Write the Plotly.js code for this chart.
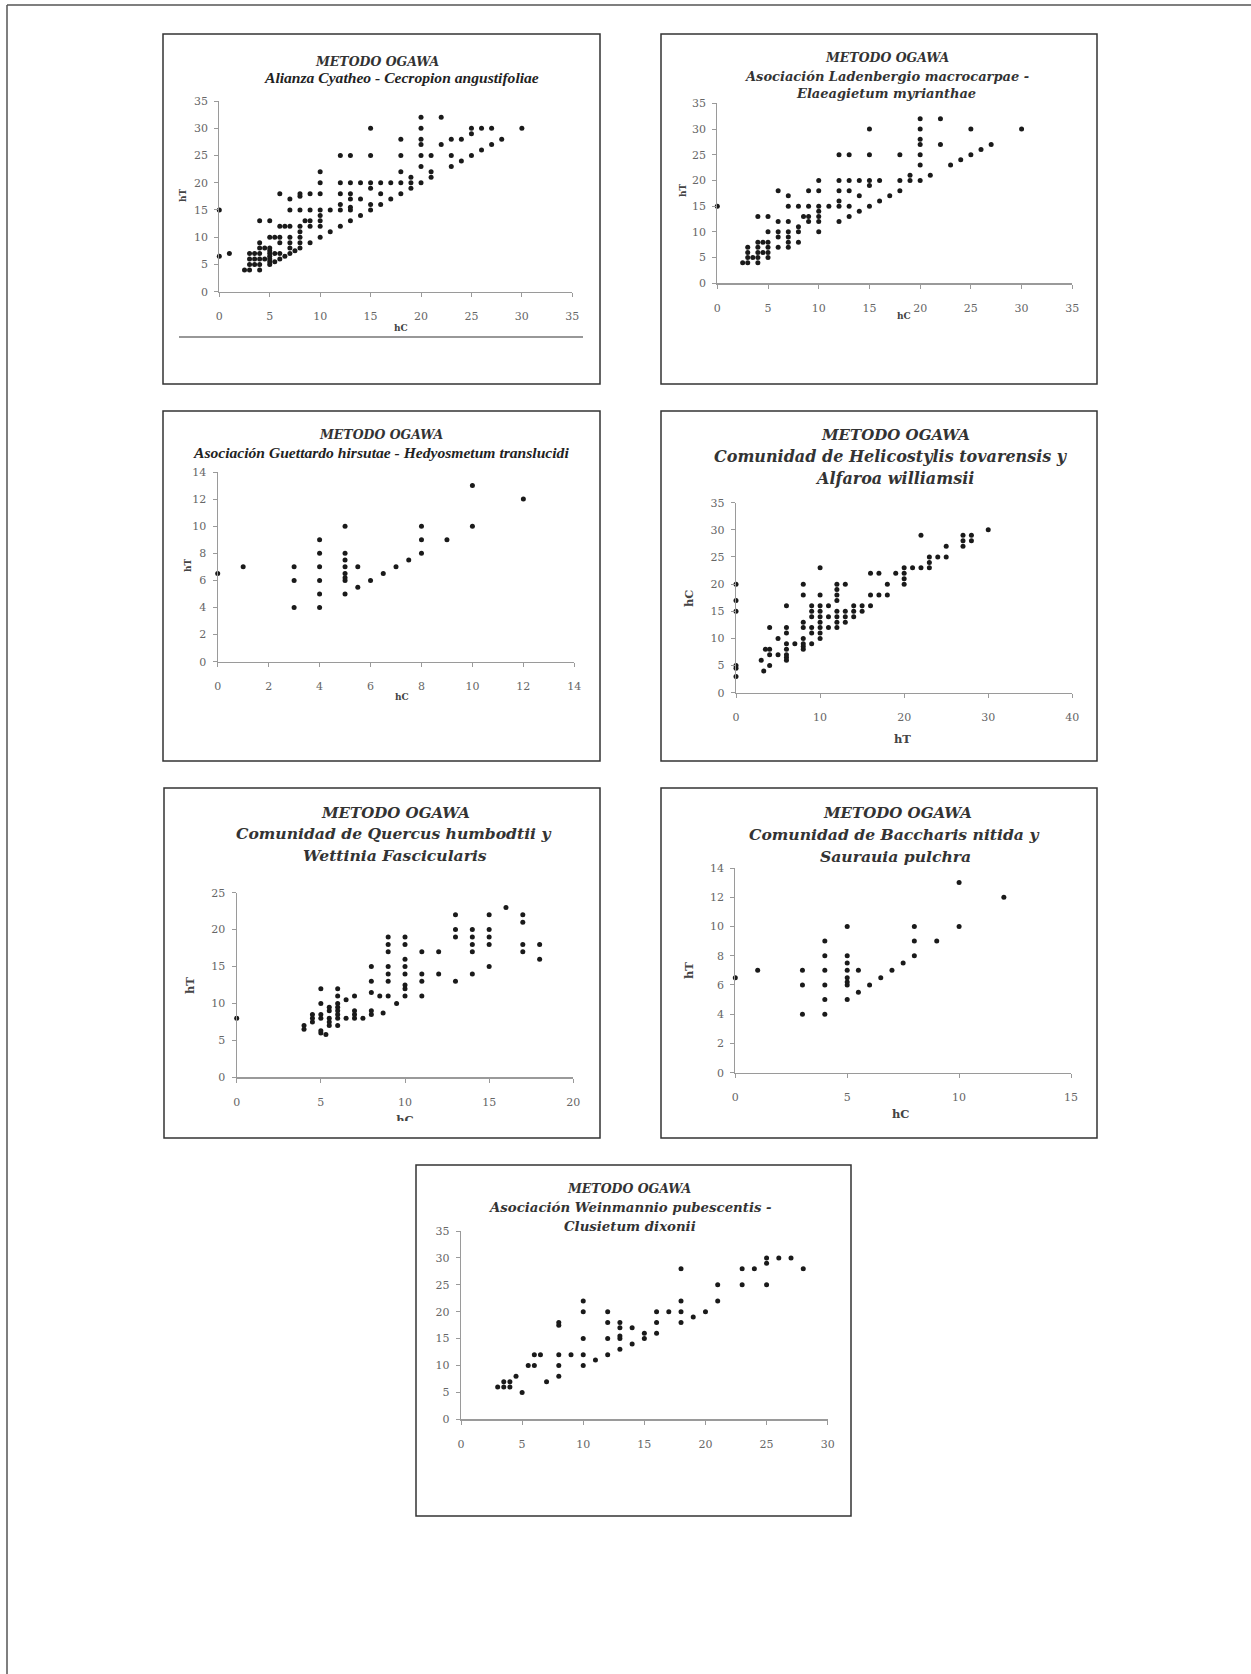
<!DOCTYPE html>
<html>
<head>
<meta charset="utf-8">
<script src="https://cdn.plot.ly/plotly-3.0.1.min.js"></script>
<style>html,body{margin:0;padding:0;background:#fff;} #chart{width:1251px;height:1674px;}</style>
</head>
<body>
<div id="chart"></div>
<script>
// ---------- DATA (hC, hT) ----------
const p1Title = "Alianza Cyatheo - Cecropion angustifoliae";
const p1Pairs = [[0,15],[0,6.5],[1,7],[2.5,4],[3,4],[3,5],[3,6],[3,7],[3.5,5],[3.5,6],[3.5,7],[4,4],[4,5],[4,6],[4,7],[4,8],[4,9],[4,13],[4.5,6],[4.5,8],[5,5],[5,5.5],[5,6],[5,6.5],[5,7],[5,7.5],[5,8],[5,10],[5,13],[5.5,5.5],[5.5,7],[5.5,10],[6,6],[6,7],[6,9],[6,10],[6,12],[6,18],[6.5,6.5],[6.5,12],[7,7],[7,8],[7,9],[7,10],[7,12],[7,15],[7,17],[7.5,7.5],[8,8],[8,9],[8,10],[8,11],[8,12],[8,15],[8,17.5],[8,18],[8.5,13],[9,9],[9,12],[9,13],[9,15],[9,18],[10,10],[10,12],[10,13],[10,14],[10,15],[10,18],[10,20],[10,22],[11,11],[11,15],[12,12],[12,15],[12,16],[12,18],[12,20],[12,25],[13,13],[13,15],[13,15.5],[13,17],[13,18],[13,20],[13,25],[14,14],[14,17],[14,20],[15,15],[15,16],[15,19],[15,20],[15,25],[15,30],[16,16],[16,18],[16,20],[17,17],[17,20],[18,18],[18,20],[18,22],[18,25],[18,28],[19,19],[19,20],[19,21],[20,20],[20,23],[20,25],[20,27],[20,28],[20,30],[20,32],[21,21],[21,22],[21,25],[22,27],[22,32],[23,23],[23,25],[23,28],[24,24],[24,28],[25,25],[25,29],[25,30],[26,26],[26,30],[27,27],[27,30],[28,28],[30,30]];

const p2Title = ["Asociación Ladenbergio macrocarpae -", "Elaeagietum myrianthae"];
const p2Pairs = [[0,15],[2.5,4],[3,4],[3,5],[3,6],[3,7],[3.5,5],[4,4],[4,5],[4,6],[4,7],[4,8],[4,13],[4.5,6],[4.5,8],[5,5],[5,6],[5,7],[5,8],[5,10],[5,13],[6,7],[6,9],[6,10],[6,12],[6,18],[7,7],[7,8],[7,9],[7,10],[7,12],[7,15],[7,17],[8,8],[8,10],[8,11],[8,15],[8.5,13],[9,12],[9,13],[9,15],[9,18],[10,10],[10,12],[10,13],[10,14],[10,15],[10,18],[10,20],[11,15],[12,12],[12,15],[12,16],[12,18],[12,20],[12,25],[13,13],[13,15],[13,18],[13,20],[13,25],[14,14],[14,17],[14,20],[15,15],[15,19],[15,20],[15,25],[15,30],[16,16],[16,20],[17,17],[18,18],[18,20],[18,25],[19,20],[19,21],[20,20],[20,23],[20,25],[20,27],[20,28],[20,30],[20,32],[21,21],[22,27],[22,32],[23,23],[24,24],[25,25],[25,30],[26,26],[27,27],[30,30]];

const p3Title = "Asociación Guettardo hirsutae - Hedyosmetum translucidi";
const p3Pairs = [[0,6.5],[1,7],[3,4],[3,6],[3,7],[4,4],[4,5],[4,6],[4,7],[4,8],[4,9],[5,5],[5,6],[5,6.2],[5,6.5],[5,7],[5,7.5],[5,8],[5,10],[5.5,5.5],[5.5,7],[6,6],[6.5,6.5],[7,7],[7.5,7.5],[8,8],[8,9],[8,10],[9,9],[10,10],[10,13],[12,12]];

const p4Title = ["Comunidad de Helicostylis tovarensis y", "Alfaroa williamsii"];
// here x = hT, y = hC
const p4Pairs = [[0,3],[0,4.5],[0,5],[0,15],[0,17],[0,20],[3,6],[3.3,4],[3.5,8],[4,5],[4,7],[4,8],[4,12],[5,7],[5,10],[6,6],[6,6.5],[6,7],[6,8],[6,9],[6,11],[6,12],[6,16],[7,9],[8,8],[8,8.5],[8,9],[8,10],[8,12],[8,13],[8,18],[8,20],[9,9],[9,11],[9,12],[9,14],[9,15],[9,16],[10,10],[10,11],[10,12],[10,13],[10,14],[10,15],[10,16],[10,18],[10,23],[11,12],[11,14],[11,16],[12,12],[12,13],[12,14],[12,15],[12,17],[12,18],[12,19],[12,20],[13,13],[13,14],[13,15],[13,20],[14,14],[14,15],[14,16],[15,15],[15,16],[16,16],[16,18],[16,22],[17,18],[17,22],[18,18],[18,20],[19,22],[20,20],[20,21],[20,22],[20,23],[21,23],[22,23],[22,29],[23,23],[23,24],[23,25],[24,25],[25,25],[25,27],[27,27],[27,28],[27,29],[28,28],[28,29],[30,30]];

const p5Title = ["Comunidad de Quercus humbodtii y", "Wettinia Fascicularis"];
const p5Pairs = [[0,8],[4,6.5],[4,7],[4.5,7.5],[4.5,8],[4.5,8.5],[5,6],[5,6.3],[5,8],[5,8.5],[5,10],[5,12],[5.3,5.8],[5.5,7],[5.5,7.5],[5.5,8],[5.5,9],[5.5,9.5],[6,7],[6,8],[6,8.5],[6,9],[6,9.5],[6,10],[6,11],[6,12],[6.5,8],[6.5,10.5],[7,8],[7,8.5],[7,9],[7,11],[7.5,8],[8,8.5],[8,9],[8,11.5],[8,13],[8,15],[8.5,11],[8.7,8.7],[9,11],[9,13],[9,14],[9,15],[9,17],[9,18],[9,19],[9.5,10],[10,11],[10,12],[10,12.5],[10,14],[10,15],[10,16],[10,18],[10,19],[11,11],[11,13],[11,14],[11,17],[12,14],[12,17],[13,13],[13,19],[13,20],[13,22],[14,14],[14,17],[14,18],[14,19],[14,20],[15,15],[15,18],[15,19],[15,20],[15,22],[16,23],[17,17],[17,18],[17,21],[17,22],[18,16],[18,18]];

const p6Title = ["Comunidad de Baccharis nitida y", "Saurauia pulchra"];
const p6Pairs = [[0,6.5],[1,7],[3,4],[3,6],[3,7],[4,4],[4,5],[4,6],[4,7],[4,8],[4,9],[5,5],[5,6],[5,6.2],[5,6.5],[5,7],[5,7.5],[5,8],[5,10],[5.5,5.5],[5.5,7],[6,6],[6.5,6.5],[7,7],[7.5,7.5],[8,8],[8,9],[8,10],[9,9],[10,10],[10,13],[12,12]];

const p7Title = ["Asociación Weinmannio pubescentis -", "Clusietum dixonii"];
const p7Pairs = [[3,6],[3.5,6],[3.5,7],[4,6],[4,7],[4.5,8],[5,5],[5.5,10],[6,10],[6,12],[6.5,12],[7,7],[8,8],[8,10],[8,12],[8,17.5],[8,18],[9,12],[10,10],[10,12],[10,15],[10,20],[10,22],[11,11],[12,12],[12,15],[12,18],[12,20],[13,13],[13,15],[13,15.5],[13,17],[13,18],[14,14],[14,17],[15,15],[15,16],[16,16],[16,18],[16,20],[17,20],[18,18],[18,20],[18,22],[18,28],[19,19],[20,20],[21,22],[21,25],[23,25],[23,28],[24,28],[25,25],[25,29],[25,30],[26,30],[27,30],[28,28]];

const mainTitle = "METODO OGAWA";

// ---------- LAYOUT ----------
const W = 1251, H = 1674;
const PX = x => x / W;
const PY = y => 1 - y / H;

const panels = [
  {pairs:p1Pairs, box:[163,34,600,384], plot:[219.3,101,572.3,291.7], xr:[0,35], yr:[0,35], dx:5, dy:5},
  {pairs:p2Pairs, box:[661,34,1097,384], plot:[717.3,103.3,1072.3,283.3], xr:[0,35], yr:[0,35], dx:5, dy:5},
  {pairs:p3Pairs, box:[163,411,600,761], plot:[217.7,472,574.3,661.7], xr:[0,14], yr:[0,14], dx:2, dy:2},
  {pairs:p4Pairs, box:[661,411,1097,761], plot:[736,502.7,1072.3,692.7], xr:[0,40], yr:[0,35], dx:10, dy:5},
  {pairs:p5Pairs, box:[164,788,600,1138], plot:[236.7,892.7,573.3,1077.3], xr:[0,20], yr:[0,25], dx:5, dy:5},
  {pairs:p6Pairs, box:[661,788,1097,1138], plot:[735.3,868,1071,1072.7], xr:[0,15], yr:[0,14], dx:5, dy:2},
  {pairs:p7Pairs, box:[416,1165,851,1516], plot:[461,1231,827.7,1419.3], xr:[0,30], yr:[0,35], dx:5, dy:5}
];

const tickFont = {family:"DejaVu Serif", size:11, color:"#666"};
const traces = [];
const layout = {
  width:W, height:H, margin:{l:0,r:0,t:0,b:0},
  paper_bgcolor:"#fff", plot_bgcolor:"rgba(0,0,0,0)",
  showlegend:false, shapes:[], annotations:[]
};

panels.forEach((p,i) => {
  const n = i + 1;
  const xa = n === 1 ? "xaxis" : "xaxis" + n;
  const ya = n === 1 ? "yaxis" : "yaxis" + n;
  const xs = n === 1 ? "x" : "x" + n;
  const ys = n === 1 ? "y" : "y" + n;
  traces.push({
    type:"scatter", mode:"markers",
    x:p.pairs.map(d => d[0]), y:p.pairs.map(d => d[1]),
    xaxis:xs, yaxis:ys, cliponaxis:false,
    marker:{size:5, color:"#1a1a1a"}, hoverinfo:"skip"
  });
  const common = {showgrid:false, zeroline:false, showline:true, linecolor:"#9a9a9a", linewidth:1.2,
    ticks:"outside", ticklen:4, tickcolor:"#9a9a9a", tickfont:tickFont, tick0:0, fixedrange:true};
  layout[xa] = Object.assign({}, common, {domain:[PX(p.plot[0]), PX(p.plot[2])], range:p.xr, dtick:p.dx, anchor:ys, ticklabelstandoff:10});
  layout[ya] = Object.assign({}, common, {domain:[PY(p.plot[3]), PY(p.plot[1])], range:p.yr, dtick:p.dy, anchor:xs, ticklabelstandoff:4});
  layout.shapes.push({type:"rect", xref:"paper", yref:"paper",
    x0:PX(p.box[0]), x1:PX(p.box[2]), y0:PY(p.box[3]), y1:PY(p.box[1]),
    line:{color:"#333", width:1.5}, fillcolor:"rgba(0,0,0,0)"});
});

// outer page frame (left and top edges)
layout.shapes.push({type:"line", xref:"paper", yref:"paper", x0:PX(7), x1:PX(7), y0:0, y1:PY(5), line:{color:"#555", width:1.5}});
layout.shapes.push({type:"line", xref:"paper", yref:"paper", x0:PX(7), x1:1, y0:PY(5), y1:PY(5), line:{color:"#555", width:1.5}});
// rule under panel 1
layout.shapes.push({type:"line", xref:"paper", yref:"paper", x0:PX(179), x1:PX(583), y0:PY(337), y1:PY(337), line:{color:"#333", width:1.2}});

function ann(text, x, y, font, angle) {
  layout.annotations.push({text:text, xref:"paper", yref:"paper", x:PX(x), y:PY(y),
    xanchor:"center", yanchor:"middle", showarrow:false, font:font, textangle:angle || 0});
}
const bookS = {family:"DejaVu Serif", size:12.5, color:"#333"};
const bookS2 = {family:"DejaVu Serif", size:13, color:"#333"};
const bookL = {family:"DejaVu Serif", size:15, color:"#333"};
const bookL2 = {family:"DejaVu Serif", size:15.6, color:"#333"};
const times = {family:"Liberation Serif", size:15.6, color:"#222"};
const lab = s => ({family:"DejaVu Serif", size:s, color:"#444"});
const bi = t => "<b><i>" + t + "</i></b>";

// panel 1
ann(bi(mainTitle), 377, 61, bookS);
ann(bi(p1Title), 401, 78, times);
ann("<b>hC</b>", 401, 328, lab(9));
ann("<b>hT</b>", 183, 195, lab(9), -90);
// panel 2
ann(bi(mainTitle), 887, 57, bookS);
ann(bi(p2Title[0]), 886, 76, bookS2);
ann(bi(p2Title[1]), 886, 93, bookS2);
ann("<b>hC</b>", 904, 316, lab(9));
ann("<b>hT</b>", 683, 190, lab(9), -90);
// panel 3
ann(bi(mainTitle), 381, 434, bookS);
ann(bi(p3Title), 381, 452, times);
ann("<b>hC</b>", 402, 697, lab(9));
ann("<b>hT</b>", 188, 565, lab(9), -90);
// panel 4
ann(bi(mainTitle), 895, 435, bookL);
ann(bi(p4Title[0]), 891, 457, {family:"DejaVu Serif", size:16, color:"#333"});
ann(bi(p4Title[1]), 894, 478, {family:"DejaVu Serif", size:16, color:"#333"});
ann("<b>hT</b>", 903, 739, lab(11.5));
ann("<b>hC</b>", 689, 598, lab(11.5), -90);
// panel 5
ann(bi(mainTitle), 396, 813, bookL);
ann(bi(p5Title[0]), 393, 834, bookL2);
ann(bi(p5Title[1]), 395, 855, bookL2);
ann("<b>hT</b>", 190, 986, lab(11.5), -90);
// panel 6
ann(bi(mainTitle), 897, 813, bookL);
ann(bi(p6Title[0]), 894, 835, bookL2);
ann(bi(p6Title[1]), 895, 856, bookL2);
ann("<b>hC</b>", 901, 1114, lab(11.5));
ann("<b>hT</b>", 689, 971, lab(11.5), -90);
// panel 7
ann(bi(mainTitle), 629, 1188, bookS);
ann(bi(p7Title[0]), 630, 1207, {family:"DejaVu Serif", size:13.3, color:"#333"});
ann(bi(p7Title[1]), 630, 1226, {family:"DejaVu Serif", size:13.3, color:"#333"});

// panel 5 x-axis label, cut off by the chart area in the original
layout.xaxis8 = {domain:[PX(380), PX(430)], range:[0,1], visible:false, fixedrange:true};
layout.yaxis8 = {domain:[PY(1121), PY(1105)], range:[0,1], visible:false, fixedrange:true};
traces.push({type:"scatter", mode:"text", x:[0.5], y:[0], text:["<b>hC</b>"], textposition:"middle center",
  textfont:{family:"DejaVu Serif", size:11.5, color:"#444"}, xaxis:"x8", yaxis:"y8", cliponaxis:true, hoverinfo:"skip"});

Plotly.newPlot("chart", traces, layout, {staticPlot:true, displayModeBar:false});
</script>
</body>
</html>
